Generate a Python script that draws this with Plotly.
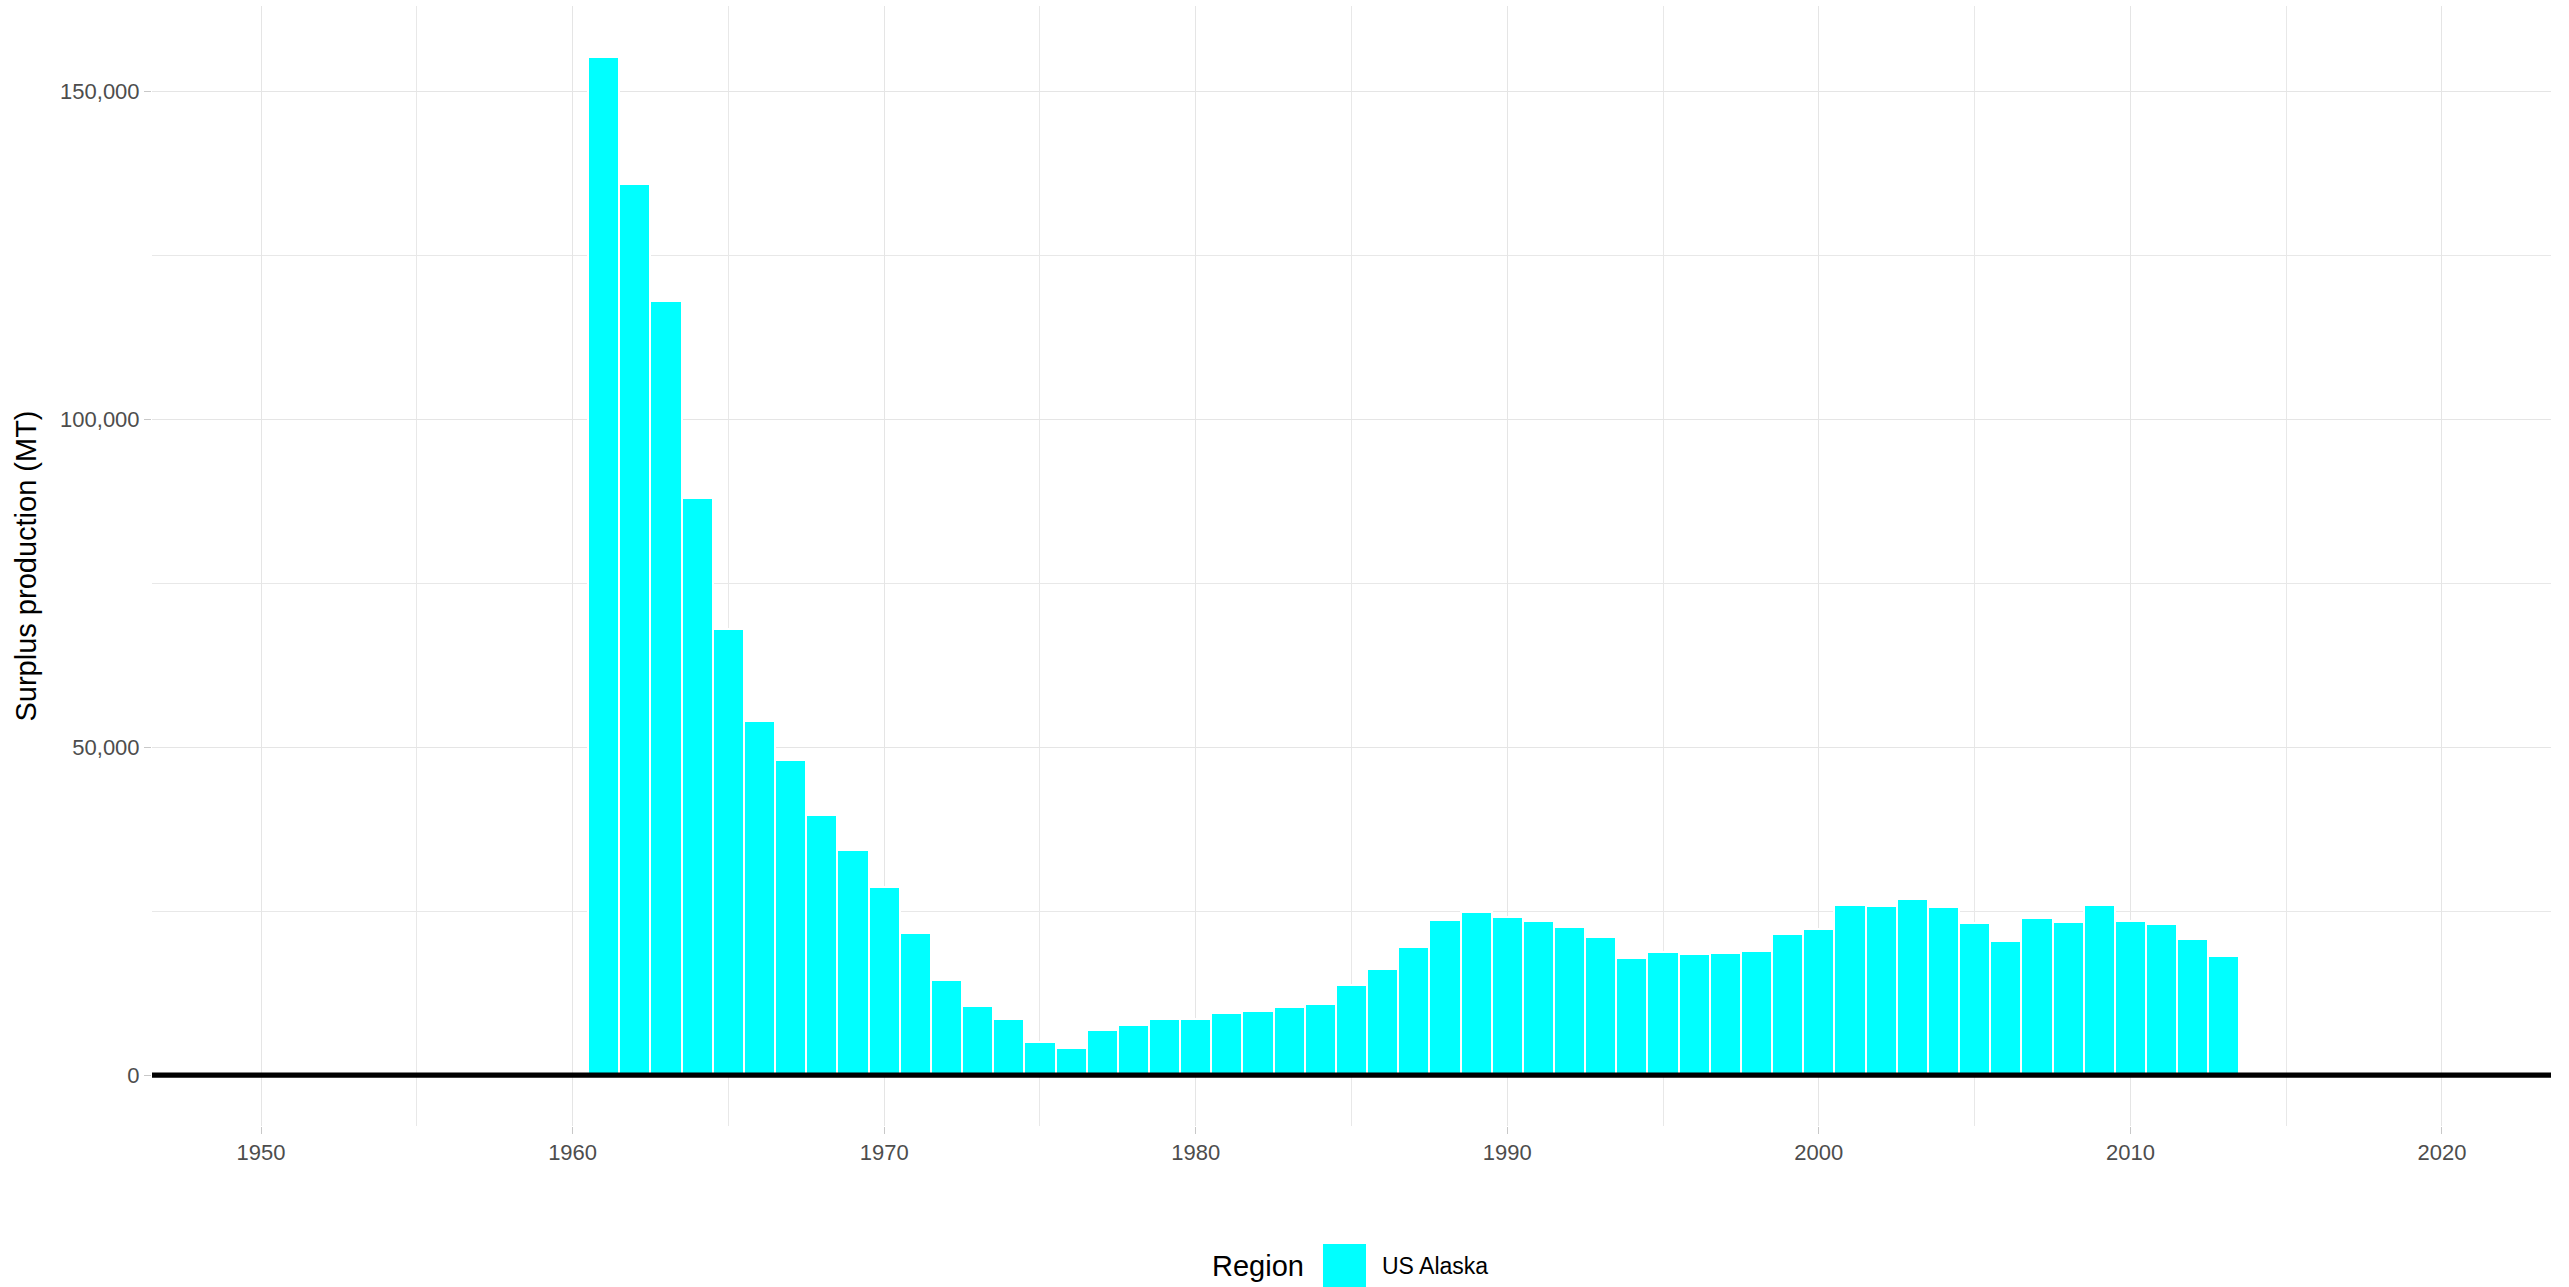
import plotly.graph_objects as go

# ---- data ----
years = list(range(1961, 2014))
surplus = [
    155200, 135800, 118000, 88000, 68000, 54000, 48000, 39600, 34300, 28700,
    21600, 14500, 10600, 8500, 5100, 4200, 6800, 7700, 8500, 8500,
    9500, 9800, 10400, 10800, 13800, 16100, 19500, 23600, 24800, 24100,
    23500, 22500, 21000, 17800, 18700, 18400, 18600, 18900, 21500, 22200,
    25900, 25800, 26800, 25600, 23200, 20400, 23900, 23300, 25900, 23500,
    23000, 20700, 18100,
]
region = "US Alaska"
legend_title = "Region"
y_title = "Surplus production (MT)"
x_limits = [1950, 2020]
x_tick_vals = list(range(1950, 2030, 10))
y_tick_vals = [0, 50000, 100000, 150000]

# ggplot-like 5% expansion
xspan = x_limits[1] - x_limits[0]
x_range = [x_limits[0] - 0.05 * xspan, x_limits[1] + 0.05 * xspan]
ymax = max(surplus)
y_range = [-0.05 * ymax, ymax * 1.05]

W, H = 2569, 1287
ML, MR, MT, MB = 152, 18, 6, 161
FONT = "Liberation Sans, Arial, Helvetica, sans-serif"
CYAN = "#00FFFF"

fig = go.Figure()
fig.add_trace(go.Bar(
    x=years, y=surplus, width=1.0,
    marker=dict(color=CYAN, line=dict(color="white", width=2)),
    name=region, showlegend=False,
))

# thick zero line over the bars
fig.add_shape(type="line", xref="paper", x0=0, x1=1, yref="y", y0=0, y1=0,
              line=dict(color="black", width=5.3), layer="above")

# legend built like ggplot's bottom legend
pw = W - ML - MR
ph = H - MT - MB
def px_x(px):
    return (px - ML) / pw
def px_y(py):
    return (H - MB - py) / ph

fig.add_annotation(text=legend_title, xref="paper", yref="paper",
                   x=px_x(1210), y=px_y(1266), xanchor="left", yanchor="middle",
                   showarrow=False, font=dict(size=29, color="black", family=FONT))
fig.add_shape(type="rect", xref="paper", yref="paper",
              x0=px_x(1323), x1=px_x(1366), y0=px_y(1244), y1=px_y(1287),
              fillcolor=CYAN, line=dict(width=0))
fig.add_annotation(text=region, xref="paper", yref="paper",
                   x=px_x(1380), y=px_y(1266), xanchor="left", yanchor="middle",
                   showarrow=False, font=dict(size=23, color="black", family=FONT))

grid_major = "#e5e5e5"
grid_minor = "#e8e8e8"

fig.update_layout(
    width=W, height=H,
    margin=dict(l=ML, r=MR, t=MT, b=MB, pad=0),
    plot_bgcolor="white", paper_bgcolor="white",
    font=dict(family=FONT, color="#4d4d4d", size=22),
    bargap=0,
    xaxis=dict(
        range=x_range, tickmode="array", tickvals=x_tick_vals,
        showgrid=True, gridcolor=grid_major, gridwidth=1.4,
        zeroline=False, showline=False,
        ticks="outside", ticklen=7, tickcolor="#c8c8c8", tickwidth=1.4,
        tickfont=dict(size=22, color="#4d4d4d", family=FONT),
        minor=dict(dtick=5, tick0=1950, showgrid=True, gridcolor=grid_minor, gridwidth=1.2),
    ),
    yaxis=dict(
        range=y_range, tickmode="array", tickvals=y_tick_vals, tickformat=",",
        showgrid=True, gridcolor=grid_major, gridwidth=1.4,
        zeroline=False, showline=False,
        ticks="outside", ticklen=7, tickcolor="#c8c8c8", tickwidth=1.4,
        tickfont=dict(size=22, color="#4d4d4d", family=FONT),
        minor=dict(dtick=25000, tick0=0, showgrid=True, gridcolor=grid_minor, gridwidth=1.2),
        title=dict(text=y_title, font=dict(size=29, color="black", family=FONT), standoff=14),
    ),
)

fig.write_html("out.html", config={"displayModeBar": False},
               post_script="document.body.style.margin='0';document.body.style.overflow='hidden';")
